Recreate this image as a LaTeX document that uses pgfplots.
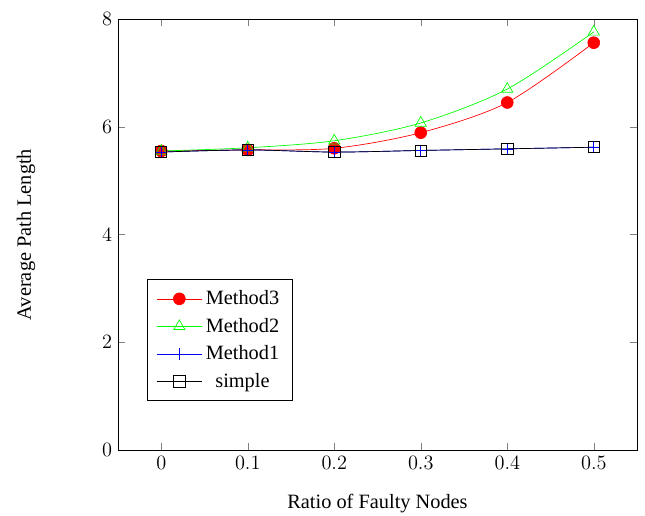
\documentclass[border=0pt]{standalone}
\usepackage{fontspec}
\setmainfont{Liberation Serif}
\usepackage{pgfplots}
\pgfplotsset{compat=1.18}
\begin{document}
\begin{tikzpicture}
\begin{axis}[
  scale only axis,
  width=306.2pt, height=254.3pt,
  xmin=-0.05, xmax=0.55,
  ymin=0, ymax=8,
  xtick={0,0.1,0.2,0.3,0.4,0.5},
  ytick={0,2,4,6,8},
  tick label style={font=\large},
  label style={font=\large},
  xlabel={Ratio of Faulty Nodes},
  ylabel={Average Path Length},
  xlabel style={yshift=-8pt},
  ylabel style={yshift=32.5pt},
  mark size=3.5pt,
  legend style={at={(0.0553,0.1137)}, anchor=south west, draw=black, font=\large,
    inner xsep=5.5pt, inner ysep=4.5pt, row sep=2.4pt},
  legend cell align=center,
  legend image code/.code={\draw[mark repeat=2,mark phase=2,#1] plot coordinates {(0cm,0cm) (0.47cm,0cm) (0.94cm,0cm)};},
]
\addplot[red, smooth, mark=*] coordinates {(0,5.55) (0.1,5.57) (0.2,5.60) (0.3,5.89) (0.4,6.45) (0.5,7.56)};
\addlegendentry{Method3}
\addplot[green, smooth, mark=triangle, mark size=3.8pt] coordinates {(0,5.55) (0.1,5.61) (0.2,5.74) (0.3,6.07) (0.4,6.70) (0.5,7.76)};
\addlegendentry{Method2}
\addplot[blue, smooth, mark=+] coordinates {(0,5.53) (0.1,5.57) (0.2,5.53) (0.3,5.56) (0.4,5.59) (0.5,5.62)};
\addlegendentry{Method1}
\addplot[black, smooth, mark=square, mark size=3.3pt] coordinates {(0,5.53) (0.1,5.57) (0.2,5.53) (0.3,5.56) (0.4,5.59) (0.5,5.62)};
\addlegendentry{simple}
\end{axis}
\pgfresetboundingbox
\path[use as bounding box] (current axis.south west) ++(-69.6pt,-38.9pt) rectangle ++(380.5pt,304.4pt);
\end{tikzpicture}
\end{document}
